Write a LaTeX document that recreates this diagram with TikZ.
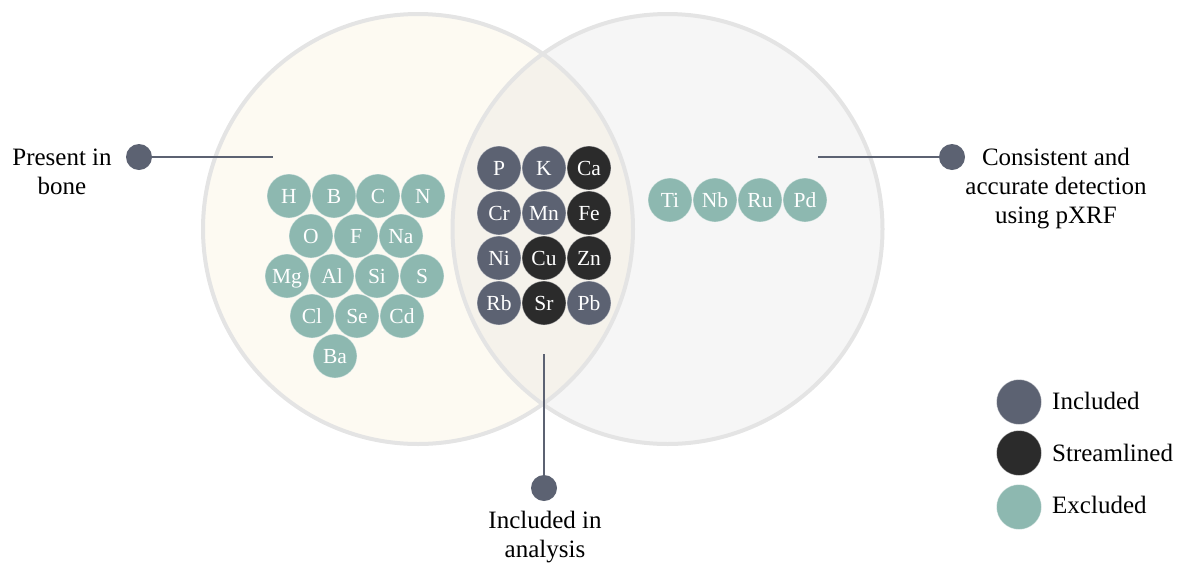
\documentclass[tikz,border=0pt]{standalone}
\usepackage{fontspec}
\setmainfont{Liberation Serif}
\definecolor{slate}{HTML}{5C6272}
\definecolor{darkel}{HTML}{2B2B2B}
\definecolor{tealel}{HTML}{8DB8B0}
\definecolor{ringc}{HTML}{E4E4E4}
\definecolor{leftfill}{HTML}{FDFAF2}
\definecolor{rightfill}{HTML}{F6F6F6}
\definecolor{midfill}{HTML}{F5F2EB}
\begin{document}
\begin{tikzpicture}[x=1pt,y=-1pt,
  elem/.style={circle, minimum size=44pt, inner sep=0pt, text=white,
    font=\fontsize{21.5}{21.5}\selectfont, text height=14.2pt, text depth=0pt,
    draw=white, draw opacity=0.45, line width=0.8pt},
  ex/.style={elem, fill=tealel},
  inc/.style={elem, fill=slate},
  stl/.style={elem, fill=darkel},
  pin/.style={circle, fill=slate, minimum size=26pt, inner sep=0pt},
  lead/.style={draw=slate, line width=2.8pt},
  lbl/.style={font=\fontsize{25}{29}\selectfont, align=center, text=black},
  legtxt/.style={font=\fontsize{25}{29}\selectfont, text=black, anchor=base west, inner sep=0pt},
  ring/.style={draw=ringc, line width=4pt}]
\useasboundingbox (0,0) rectangle (1180,563);
% Venn circles
\fill[leftfill] (418,229) circle[radius=215pt];
\fill[rightfill] (667.5,229) circle[radius=215pt];
\begin{scope}
  \clip (418,229) circle[radius=215pt];
  \fill[midfill] (667.5,229) circle[radius=215pt];
\end{scope}
\draw[ring] (418,229) circle[radius=215pt];
\draw[ring] (667.5,229) circle[radius=215pt];
% left set: excluded elements
\node[ex] (H)  at (289,196) {H};
\node[ex] (B)  at (334,196) {B};
\node[ex] (C)  at (378,196) {C};
\node[ex] (N)  at (423,196) {N};
\node[ex] (O)  at (311,236) {O};
\node[ex] (F)  at (356,236) {F};
\node[ex] (Na) at (401,236) {Na};
\node[ex] (Mg) at (287,276) {Mg};
\node[ex] (Al) at (332,276) {Al};
\node[ex] (Si) at (377,276) {Si};
\node[ex] (S)  at (422,276) {S};
\node[ex] (Cl) at (312,316) {Cl};
\node[ex] (Se) at (357,316) {Se};
\node[ex] (Cd) at (402,316) {Cd};
\node[ex] (Ba) at (335,356) {Ba};
% middle grid
\node[inc] (P)  at (499,168) {P};
\node[inc] (K)  at (544,168) {K};
\node[stl] (Ca) at (589,168) {Ca};
\node[inc] (Cr) at (499,213) {Cr};
\node[inc] (Mn) at (544,213) {Mn};
\node[stl] (Fe) at (589,213) {Fe};
\node[inc] (Ni) at (499,258) {Ni};
\node[stl] (Cu) at (544,258) {Cu};
\node[stl] (Zn) at (589,258) {Zn};
\node[inc] (Rb) at (499,303) {Rb};
\node[stl] (Sr) at (544,303) {Sr};
\node[inc] (Pb) at (589,303) {Pb};
% right set
\node[ex] (Ti) at (670,200) {Ti};
\node[ex] (Nb) at (715,200) {Nb};
\node[ex] (Ru) at (760,200) {Ru};
\node[ex] (Pd) at (805,200) {Pd};
% leader lines
\coordinate (endL) at (273,157);
\coordinate (endR) at (818,157);
\coordinate (endB) at (544,354);
\node[pin] (pinL) at (139,157) {};
\node[pin] (pinR) at (952,157) {};
\node[pin] (pinB) at (544,488) {};
\draw[lead] (pinL) -- (endL);
\draw[lead] (pinR) -- (endR);
\draw[lead] (pinB) -- (endB);
\node[lbl, anchor=base] (tL) at (62,194) {Present in\\bone};
\node[lbl, anchor=base] (tR) at (1056,223) {Consistent and\\accurate detection\\using pXRF};
\node[lbl, anchor=base] (tB) at (545,557) {Included in\\analysis};
% legend
\node[elem, fill=slate, minimum size=45pt] (lg1) at (1019,402) {};
\node[elem, fill=darkel, minimum size=45pt] (lg2) at (1019,453) {};
\node[elem, fill=tealel, minimum size=45pt] (lg3) at (1019,507) {};
\node[legtxt] (lt1) at (1052,409) {Included};
\node[legtxt] (lt2) at (1052,461) {Streamlined};
\node[legtxt] (lt3) at (1052,513) {Excluded};
\end{tikzpicture}
\end{document}
